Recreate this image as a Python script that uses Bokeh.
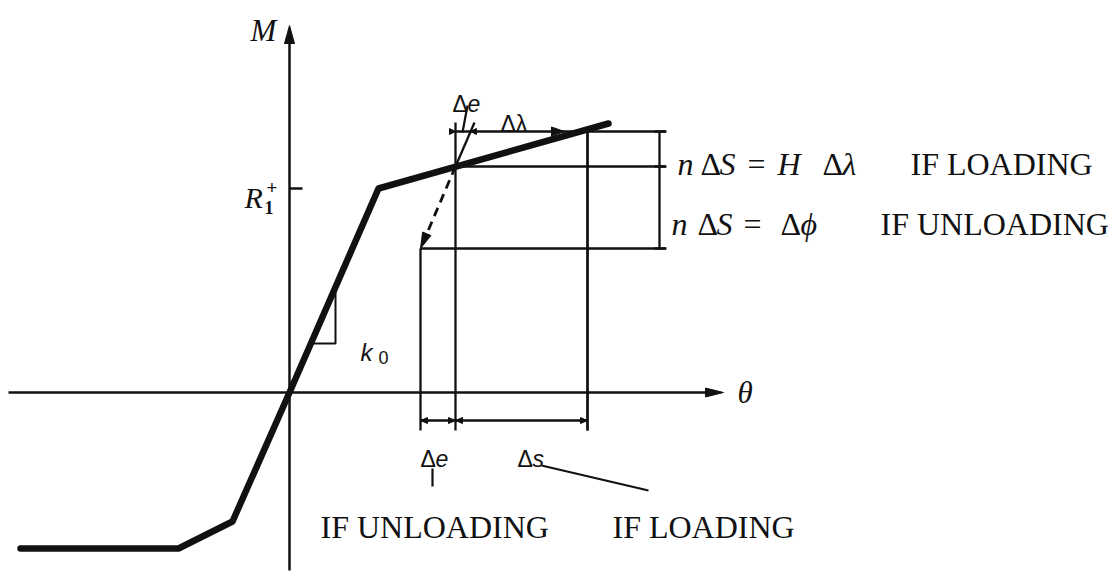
import math

from bokeh.plotting import figure
from bokeh.models import Range1d
from bokeh.core.properties import value
from bokeh.embed import file_html
from bokeh.resources import INLINE

# ---- moment-rotation backbone (theta, M), origin at the axes' crossing ----
theta_curve = [-269, -111, -57, 0, 89, 319]
moment_curve = [-156, -156, -129, 0, 204, 269]

# yield moment R1+ on the M axis
R1_plus = 204

# current state on the hardening branch and the two trial increments
theta_n, M_n = 166, 226          # current point
theta_u, M_u = 131, 144          # end of elastic unloading
theta_s, M_top = 298, 261        # end of the loading step
theta_de_top, M_de_top = 185, 270  # elastic line extended past M_top

# k0 slope triangle
k0_theta = [21, 46, 46]
k0_M = [49, 49, 103]

# axes extents
theta_axis = (-281, 434)
M_axis = (-178, 367)

# extents of the construction lines
bracket_theta = 370
line_end_theta = 376
ext_bottom = -38
dim_M = -28

SERIF = "Liberation Serif"
SANS = "Liberation Sans"

p = figure(width=1119, height=579,
           x_range=Range1d(-289, 830), y_range=Range1d(-187, 392),
           output_backend="svg", toolbar_location=None,
           x_axis_location=None, y_axis_location=None,
           min_border=0, title=None)
p.grid.visible = False
p.outline_line_color = None
p.background_fill_color = "white"
p.border_fill_color = "white"

INK = "#111111"


def head(tx, ty, ux, uy, length, width):
    n = math.hypot(ux, uy)
    ux, uy = ux / n, uy / n
    bx, by = tx - ux * length, ty - uy * length
    nx, ny = -uy, ux
    return ([tx, bx + nx * width / 2, bx - nx * width / 2],
            [ty, by + ny * width / 2, by - ny * width / 2])


heads_x, heads_y = [], []


def add_head(*args):
    hx, hy = head(*args)
    heads_x.append(hx)
    heads_y.append(hy)


# axes
p.line([theta_axis[0], theta_axis[1] - 10], [0, 0], line_color=INK, line_width=2.5)
p.line([0, 0], [M_axis[0], M_axis[1] - 10], line_color=INK, line_width=2.5)
add_head(theta_axis[1], 0, 1, 0, 18, 9)
add_head(0, M_axis[1], 0, 1, 18, 10)

# R1+ tick
p.line([0, 13], [R1_plus, R1_plus], line_color=INK, line_width=2.5)

# construction lines
thin = dict(line_color=INK, line_width=2.3)
p.segment(x0=[theta_n, theta_n, theta_u, theta_n, theta_u, theta_s, theta_n, theta_s],
          y0=[M_top, M_n, M_u, M_de_top, ext_bottom, ext_bottom, M_n, M_top],
          x1=[line_end_theta, line_end_theta, line_end_theta, theta_n, theta_u, theta_s,
              theta_de_top, theta_s],
          y1=[M_top, M_n, M_u, ext_bottom, M_u, M_top, M_de_top, ext_bottom],
          **thin)

# right bracket with ticks
p.line([bracket_theta, bracket_theta], [M_top, M_u], **thin)
p.segment(x0=[bracket_theta - 5] * 3, y0=[M_top, M_n, M_u],
          x1=[bracket_theta + 7] * 3, y1=[M_top, M_n, M_u], line_color=INK, line_width=2.5)

# bottom dimension line
p.line([theta_u, theta_s], [dim_M, dim_M], **thin)
add_head(theta_u, dim_M, -1, 0, 7, 6)
add_head(theta_n, dim_M, 1, 0, 7, 6)
add_head(theta_n, dim_M, -1, 0, 7, 6)
add_head(theta_s, dim_M, 1, 0, 7, 6)

# delta-lambda arrow head and tiny delta-e heads on the top line
add_head(275, M_top, 1, 0, 13, 9)
add_head(theta_n, M_top, 1, 0, 6, 6)
add_head(181, M_top, -1, 0, 6, 6)

# dashed elastic unloading with arrow
du_x, du_y = theta_u - theta_n, M_u - M_n
L = math.hypot(du_x, du_y)
p.line([theta_n, theta_u - du_x / L * 14], [M_n, M_u - du_y / L * 14],
       line_color=INK, line_width=2.8, line_dash="9 6")
add_head(theta_u, M_u, du_x, du_y, 16, 9)

# k0 slope triangle
p.line(k0_theta, k0_M, line_color=INK, line_width=2)

# backbone curve
p.line(theta_curve, moment_curve, line_color=INK, line_width=6.5,
       line_join="round", line_cap="round")

p.patches(heads_x, heads_y, fill_color=INK, line_color=INK, line_width=1)

# leaders
p.segment(x0=[178, 143, 252], y0=[287, -76, -73], x1=[173, 143, 359], y1=[260, -94, -98],
          line_color=INK, line_width=2.2)


def txt(x, y, s, font, size, style="normal", align="left", baseline="alphabetic"):
    p.text(x=[x], y=[y], text=[s], text_font=value(font), text_font_size=f"{size}px",
           text_font_style=style, text_align=align, text_baseline=baseline,
           text_color=INK)


# axis labels
txt(-39, 362, "M", SERIF, 31, "italic")
txt(448, 0, "θ", SERIF, 31, "italic", baseline="middle")
txt(-45, 195, "R", SERIF, 30, "italic")
txt(-25, 185, "1", SERIF, 18, "bold")
txt(-23, 205, "+", SERIF, 19, "bold")

# k0
txt(71, 40, "k", SANS, 24, "italic")
txt(89, 35, "0", SANS, 18)

# increment labels
txt(211, 269, "Δλ", SANS, 23)
txt(163, 289, "Δ", SANS, 23)
txt(178, 289, "e", SANS, 23, "italic")
txt(131, -66, "Δ", SANS, 23)
txt(146, -66, "e", SANS, 23, "italic")
txt(228, -66, "Δ", SANS, 23)
txt(243, -66, "s", SANS, 23, "italic")

# equations on the right
row1, row2 = 229, 169
for s, x, st in [("n", 388, "italic"), ("Δ", 411, "normal"), ("S", 430, "italic"),
                 ("=", 458, "normal"), ("H", 488, "italic"), ("Δ", 533, "normal"),
                 ("λ", 553, "italic")]:
    txt(x, row1, s, SERIF, 32, st)
for s, x, st in [("n", 382, "italic"), ("Δ", 408, "normal"), ("S", 427, "italic"),
                 ("=", 454, "normal"), ("Δ", 491, "normal"), ("ϕ", 511, "italic")]:
    txt(x, row2, s, SERIF, 32, st)
txt(621, row1, "IF LOADING", SERIF, 32)
txt(591, row2, "IF UNLOADING", SERIF, 32)

# bottom captions
txt(31, -134, "IF UNLOADING", SERIF, 32)
txt(323, -134, "IF LOADING", SERIF, 32)

open("out.html", "w").write(file_html(p, INLINE))
